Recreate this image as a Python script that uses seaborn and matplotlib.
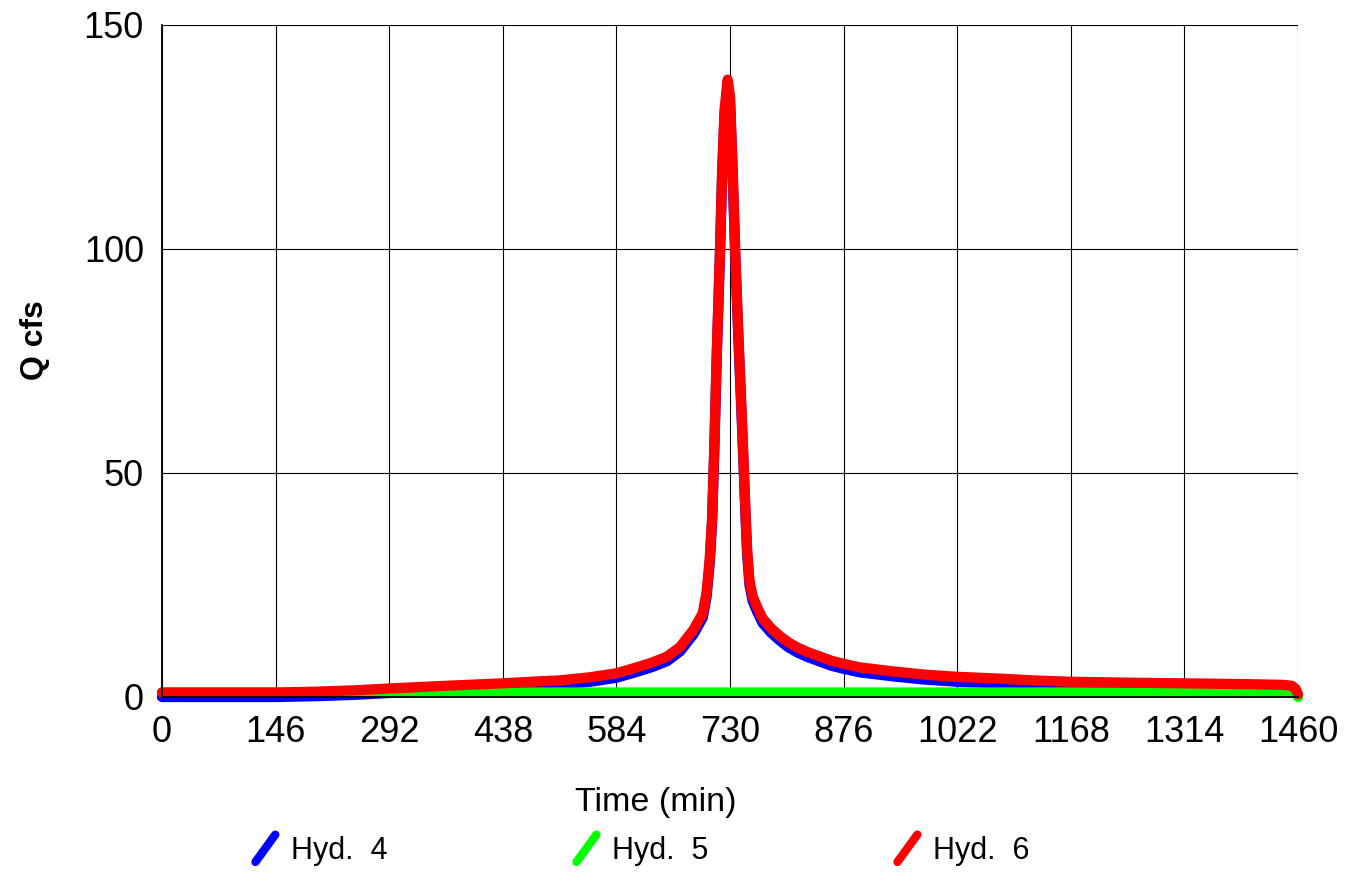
import matplotlib
matplotlib.use('Agg')
import matplotlib.pyplot as plt
import seaborn as sns
import pandas as pd
from matplotlib.lines import Line2D
from matplotlib.legend_handler import HandlerBase

# dados
tempo = [0, 73, 146, 200, 250, 292, 365, 438, 486, 511, 550, 584, 610, 630, 649,
         666, 683, 695, 700, 704, 707, 710, 713, 717, 720, 723, 727, 730, 733, 737,
         741, 746, 750, 752, 755, 759, 765, 772, 783, 794, 805, 816, 830, 846, 860,
         876, 897, 940, 980, 1022, 1077, 1120, 1168, 1240, 1314, 1400, 1441, 1452,
         1457, 1460]

hyd4 = [0.0, 0.0, 0.0, 0.2, 0.5, 0.9, 1.5, 2.05, 2.5, 2.7, 3.4, 4.3, 5.6, 6.7, 8.0,
        10.2, 14.0, 17.7, 22.5, 30.0, 39.0, 56.0, 76.0, 98.0, 117.0, 130.0, 136.8, 133.0, 119.0, 97.0,
        79.0, 58.0, 40.0, 32.0, 25.0, 21.5, 19.0, 16.5, 14.3, 12.6, 11.1, 10.0, 8.9, 7.9, 7.0,
        6.3, 5.5, 4.6, 3.9, 3.4, 3.0, 2.7, 2.4, 2.2, 2.05, 1.85, 1.7, 1.5,
        1.0, 0.4]

hyd5 = [1.0, 1.0, 1.0, 1.0, 1.0, 1.0, 1.0, 1.0, 1.0, 1.0, 1.0, 1.0, 1.0, 1.0, 1.0,
        1.0, 1.0, 1.0, 1.0, 1.0, 1.0, 1.0, 1.0, 1.0, 1.0, 1.0, 1.0, 1.0, 1.0, 1.0,
        1.0, 1.0, 1.0, 1.0, 1.0, 1.0, 1.0, 1.0, 1.0, 1.0, 1.0, 1.0, 1.0, 1.0, 1.0,
        1.0, 1.0, 1.0, 1.0, 1.0, 1.0, 1.0, 1.0, 1.0, 1.0, 1.0, 1.0, 1.0,
        0.8, 0.0]

hyd6 = [1.0, 1.0, 1.0, 1.2, 1.5, 1.9, 2.5, 3.05, 3.5, 3.7, 4.4, 5.3, 6.6, 7.7, 9.0,
        11.2, 15.0, 18.7, 23.5, 31.0, 40.0, 57.0, 77.0, 99.0, 118.0, 131.0, 137.8, 134.0, 120.0, 98.0,
        80.0, 59.0, 41.0, 33.0, 26.0, 22.5, 20.0, 17.5, 15.3, 13.6, 12.2, 11.1, 10.0, 9.0, 8.1,
        7.4, 6.6, 5.7, 5.0, 4.5, 4.1, 3.7, 3.4, 3.2, 3.05, 2.85, 2.7, 2.5,
        1.8, 0.6]

rotulos = ['Hyd.  4', 'Hyd.  5', 'Hyd.  6']
cores = ['#0000ff', '#00ff00', '#ff0000']
xticks = [0, 146, 292, 438, 584, 730, 876, 1022, 1168, 1314, 1460]
yticks = [0, 50, 100, 150]

# tabela longa
df = pd.concat([
    pd.DataFrame({'tempo': tempo, 'Q': hyd4, 'serie': rotulos[0]}),
    pd.DataFrame({'tempo': tempo, 'Q': hyd5, 'serie': rotulos[1]}),
    pd.DataFrame({'tempo': tempo, 'Q': hyd6, 'serie': rotulos[2]}),
])

sns.set_style('white')
plt.rcParams['font.family'] = ['Liberation Sans', 'DejaVu Sans']
plt.rcParams['text.color'] = 'black'
plt.rcParams['axes.labelcolor'] = 'black'


class SlashHandler(HandlerBase):
    # legenda com tracinho inclinado
    def create_artists(self, legend, orig_handle, xdescent, ydescent,
                       width, height, fontsize, trans):
        x0, y0 = -xdescent, -ydescent
        ln = Line2D([x0, x0 + width], [y0, y0 + height],
                    color=orig_handle.get_color(), lw=orig_handle.get_linewidth(),
                    solid_capstyle='round', transform=trans)
        return [ln]


fig = plt.figure(figsize=(13.55, 8.72), dpi=100)
ax = fig.add_axes([162 / 1355, 1 - 697 / 872, 1136 / 1355, 672 / 872])

sns.lineplot(data=df, x='tempo', y='Q', hue='serie', hue_order=rotulos,
             palette=cores, linewidth=7.4, estimator=None, sort=False,
             legend=False, ax=ax)
for ln in ax.lines:
    ln.set_clip_on(False)
    ln.set_solid_capstyle('round')
    ln.set_solid_joinstyle('round')

ax.set_xlim(0, 1460)
ax.set_ylim(0, 150)
ax.set_xticks(xticks)
ax.set_yticks(yticks)
ax.grid(True, color='black', linewidth=0.8)
ax.set_axisbelow(True)
sns.despine(ax=ax, top=True, right=True)
for s in ['left', 'bottom']:
    ax.spines[s].set_color('black')
    ax.spines[s].set_linewidth(1.3)
ax.tick_params(axis='both', direction='out', length=11, width=0.9,
               color='black', labelsize=26, pad=2, labelcolor='black')

ax.set_xlabel('Time (min)', fontsize=24.5)
ax.set_ylabel('Q cfs', fontsize=23, fontweight='bold')
ax.xaxis.set_label_coords(0.435, -0.134)
ax.yaxis.set_label_coords(-0.0986, 0.531)

handles = [Line2D([], [], color=c, lw=6) for c in cores]
fig.legend(handles, rotulos, loc='center', bbox_to_anchor=(0.474, 0.025),
           ncol=3, frameon=False, fontsize=22, handler_map={Line2D: SlashHandler()},
           handlelength=0.65, handleheight=1.0, handletextpad=0.5, columnspacing=6.2)

plt.savefig('out.png', dpi=100)
